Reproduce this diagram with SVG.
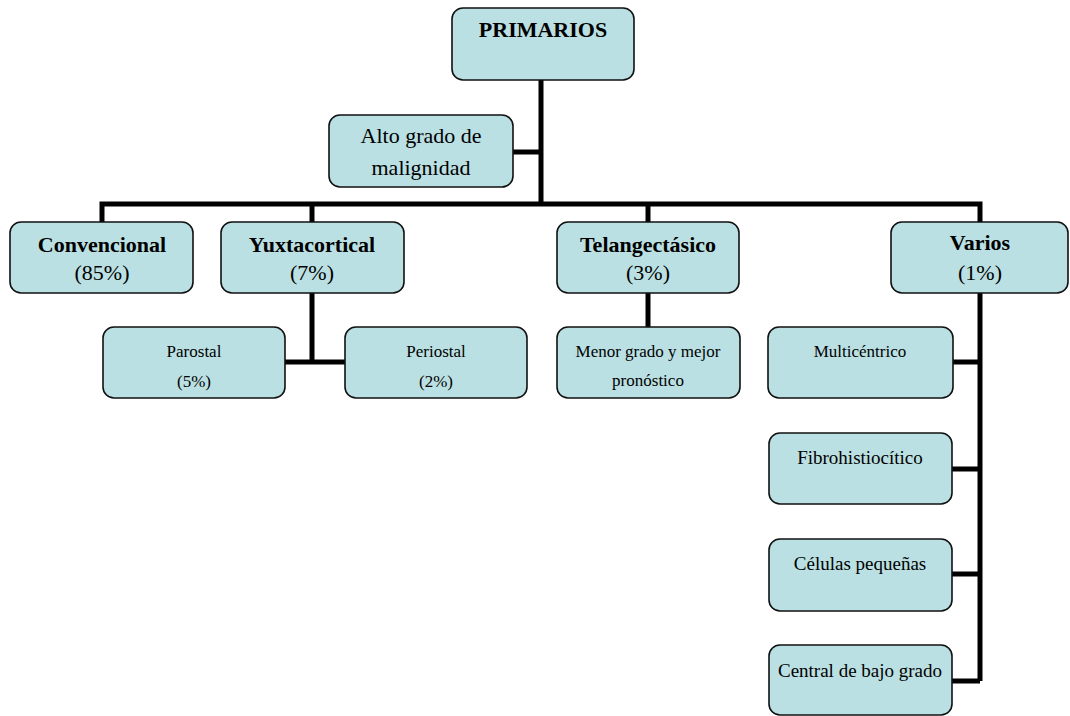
<svg xmlns="http://www.w3.org/2000/svg" width="1070" height="716" viewBox="0 0 1070 716" font-family="Liberation Serif, serif">
<style>
.box{fill:#BAE0E3;stroke:#111;stroke-width:1.6}
.t{fill:#000;text-anchor:middle}
.b{font-weight:bold;font-size:22px}
.n{font-size:22px}
.s{font-size:17px}
.m{font-size:19px}
.c{fill:none;stroke:#000;stroke-width:5;stroke-linejoin:miter}
</style>
<rect width="1070" height="716" fill="#fff"/>
<g id="connectors">
<path class="c" d="M541,80 V204"/>
<path class="c" d="M513,152 H541"/>
<path class="c" d="M102,222 V204 H980 V222"/>
<path class="c" d="M312,204 V222"/>
<path class="c" d="M648,204 V222"/>
<path class="c" d="M312,293 V362 M285,362 H345"/>
<path class="c" d="M648,293 V327"/>
<path class="c" d="M980,293 V681 M953,362 H980 M952,469 H980 M952,574 H980 M952,681 H980"/>
</g>
<g id="primarios">
<rect class="box" x="452" y="8" width="182" height="72" rx="11"/>
<text class="t b" x="543" y="37" font-family="Liberation Serif, serif">PRIMARIOS</text>
</g>
<g id="alto">
<rect class="box" x="329" y="115" width="184" height="72" rx="11"/>
<text class="t n" x="421" y="143" font-family="Liberation Serif, serif">Alto grado de</text>
<text class="t n" x="421" y="175" font-family="Liberation Serif, serif">malignidad</text>
</g>
<g id="convencional">
<rect class="box" x="10" y="222" width="183" height="71" rx="11"/>
<text class="t b" x="102" y="252" font-family="Liberation Serif, serif">Convencional</text>
<text class="t n" x="102" y="280" font-family="Liberation Serif, serif">(85%)</text>
</g>
<g id="yuxtacortical">
<rect class="box" x="221" y="222" width="183" height="71" rx="11"/>
<text class="t b" x="312" y="252" font-family="Liberation Serif, serif">Yuxtacortical</text>
<text class="t n" x="312" y="280" font-family="Liberation Serif, serif">(7%)</text>
</g>
<g id="telangectasico">
<rect class="box" x="557" y="222" width="182" height="71" rx="11"/>
<text class="t b" x="648" y="252" font-family="Liberation Serif, serif">Telangectásico</text>
<text class="t n" x="648" y="280" font-family="Liberation Serif, serif">(3%)</text>
</g>
<g id="varios">
<rect class="box" x="891" y="222" width="177" height="71" rx="11"/>
<text class="t b" x="980" y="250" font-family="Liberation Serif, serif">Varios</text>
<text class="t n" x="980" y="280" font-family="Liberation Serif, serif">(1%)</text>
</g>
<g id="parostal">
<rect class="box" x="103" y="327" width="182" height="71" rx="11"/>
<text class="t s" x="194" y="357" font-family="Liberation Serif, serif">Parostal</text>
<text class="t s" x="194" y="387" font-family="Liberation Serif, serif">(5%)</text>
</g>
<g id="periostal">
<rect class="box" x="345" y="327" width="182" height="71" rx="11"/>
<text class="t s" x="436" y="357" font-family="Liberation Serif, serif">Periostal</text>
<text class="t s" x="436" y="387" font-family="Liberation Serif, serif">(2%)</text>
</g>
<g id="menor">
<rect class="box" x="557" y="327" width="183" height="71" rx="11"/>
<text class="t s" x="648" y="357" font-family="Liberation Serif, serif">Menor grado y mejor</text>
<text class="t s" x="648" y="386" font-family="Liberation Serif, serif">pronóstico</text>
</g>
<g id="multicentrico">
<rect class="box" x="768" y="327" width="185" height="71" rx="11"/>
<text class="t s" x="860" y="357" font-family="Liberation Serif, serif">Multicéntrico</text>
</g>
<g id="fibrohistiocitico">
<rect class="box" x="769" y="433" width="183" height="71" rx="11"/>
<text class="t m" x="860" y="464" font-family="Liberation Serif, serif">Fibrohistiocítico</text>
</g>
<g id="celulas">
<rect class="box" x="769" y="539" width="183" height="72" rx="11"/>
<text class="t m" x="860" y="570" font-family="Liberation Serif, serif">Células pequeñas</text>
</g>
<g id="central">
<rect class="box" x="769" y="645" width="183" height="70" rx="11"/>
<text class="t m" x="860" y="677" font-family="Liberation Serif, serif">Central de bajo grado</text>
</g>
</svg>
